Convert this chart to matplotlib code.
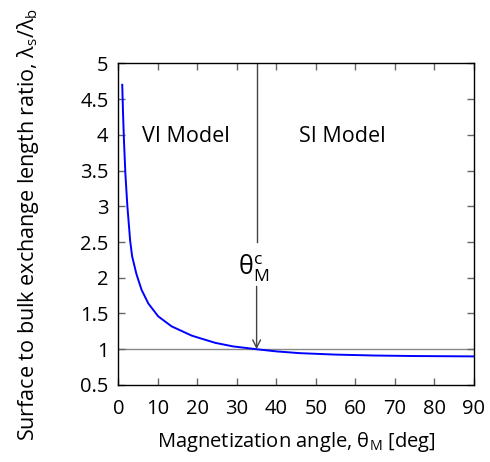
import matplotlib
matplotlib.use("Agg")
import matplotlib.pyplot as plt

plt.rcParams['font.family'] = ['Open Sans', 'DejaVu Sans']
plt.rcParams['mathtext.fontset'] = 'custom'
plt.rcParams['mathtext.rm'] = 'Open Sans'
plt.rcParams['mathtext.it'] = 'Open Sans:italic'

# data
theta = [1.0, 1.2, 1.45, 1.8, 2.3, 3.0, 3.5, 4.6, 5.9, 7.6, 10.1, 13.5, 18.6, 24.5, 29, 35, 40, 46, 55, 65, 75, 90]
ratio = [4.70, 4.30, 3.90, 3.45, 3.00, 2.52, 2.30, 2.05, 1.83, 1.64, 1.46, 1.32, 1.19, 1.09, 1.04, 1.00, 0.97, 0.945, 0.925, 0.912, 0.905, 0.90]
xticks = [0, 10, 20, 30, 40, 50, 60, 70, 80, 90]
yticks = [0.5, 1, 1.5, 2, 2.5, 3, 3.5, 4, 4.5, 5]
theta_c = 35
ref_level = 1.0

fig = plt.figure(figsize=(4.9, 4.62), dpi=100)
ax = fig.add_axes([0.2414, 0.1667, 0.9673 - 0.2414, 0.863 - 0.1667])

ax.axhline(ref_level, color='#888888', lw=1.0, zorder=1)
ax.plot(theta, ratio, color='#0000ff', lw=1.4, zorder=3, solid_joinstyle='round')

# vertical marker with arrow
ax.plot([theta_c, theta_c], [5, 2.5], color='#444444', lw=1.0)
ax.annotate('', xy=(theta_c, 1.0), xytext=(theta_c, 1.88),
            arrowprops=dict(arrowstyle='->', color='#444444', lw=1.0,
                            mutation_scale=14, shrinkA=0, shrinkB=0))
ax.text(34.3, 2.14, r'θ$_\mathrm{M}^\mathrm{c}$', fontsize=18, ha='center', va='center')

ax.text(17.2, 3.97, 'VI Model', fontsize=15.5, ha='center', va='center')
ax.text(56.8, 3.97, 'SI Model', fontsize=15.5, ha='center', va='center')

ax.set_xlim(0, 90)
ax.set_ylim(0.5, 5)
ax.set_xticks(xticks)
ax.set_xticklabels([str(t) for t in xticks])
ax.set_yticks(yticks)
ax.set_yticklabels([('%g' % t) for t in yticks])
ax.tick_params(direction='in', length=5, width=1, color='#666666',
               top=True, right=True, labelsize=14.5)
ax.tick_params(axis='x', pad=10)
ax.tick_params(axis='y', pad=7)
for s in ax.spines.values():
    s.set_linewidth(1.0)

ax.set_xlabel(r'Magnetization angle, θ$_\mathrm{M}$ [deg]', fontsize=14.5, labelpad=8)
ax.set_ylabel(r'Surface to bulk exchange length ratio, λ$_\mathrm{s}$/λ$_\mathrm{b}$', fontsize=15.5, labelpad=28)

fig.savefig('out.png', dpi=100)
